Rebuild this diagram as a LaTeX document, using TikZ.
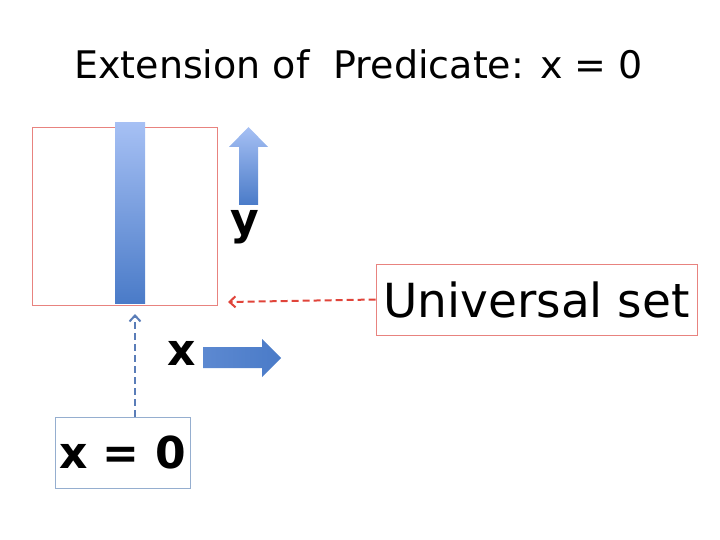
\documentclass[tikz,border=0pt]{standalone}
\usepackage{fontspec}
\setmainfont{DejaVu Sans}
\usetikzlibrary{positioning, arrows.meta, calc}

\definecolor{setred}{HTML}{E8837F}
\definecolor{dashred}{HTML}{E0443A}
\definecolor{barlight}{HTML}{A6C0F4}
\definecolor{bardark}{HTML}{4A7BC8}
\definecolor{dashblue}{HTML}{5A7DB8}
\definecolor{boxblue}{HTML}{95AECF}

\begin{document}
\begin{tikzpicture}[
  x=1pt, y=-1pt,
  setbox/.style={draw=setred, line width=0.8pt, inner sep=0pt},
  barfill/.style={top color=barlight, bottom color=bardark, draw=none},
  axislabel/.style={font=\fontsize{44}{50}\selectfont\bfseries, inner sep=0pt},
  pointer/.style={-{Straight Barb[length=6pt, width=11pt]}, line width=2pt, dash pattern=on 7pt off 4pt}
]
\useasboundingbox (0,0) rectangle (720,540);

% --- title ---
\node[anchor=base, font=\fontsize{38}{44}\selectfont] (title) at (358.5,79) {Extension of \ Predicate: x = 0};

% --- the universal set and the extension bar ---
\node[setbox, minimum width=185pt, minimum height=178pt] (uset) at (124.5,216) {};
\node[barfill, minimum width=30pt, minimum height=180pt, inner sep=0pt] (bar) at (130,213) {};

% --- axis arrows ---
\shade[barfill] (239,205) -- (239,147) -- (229,147) -- (248.5,127) -- (268,147)
  -- (258,147) -- (258,205) -- cycle;
\node[axislabel] (ylab) at (245,227) {y};
\shade[left color=bardark!80!barlight, right color=bardark, draw=none]
  (203,347) -- (262,347) -- (262,339) -- (281,358) -- (262,377) -- (262,368)
  -- (203,368) -- cycle;
\node[axislabel] (xlab) at (182,353) {x};

% --- labels pointing in ---
\node[setbox, minimum width=321pt, minimum height=71pt,
  font=\fontsize{47}{52}\selectfont] (ulabel) at (536.5,299.5) {Universal set};
\coordinate (ucorner) at (228,302);
\draw[pointer, draw=dashred] (ulabel.west) -- (ucorner);

\node[draw=boxblue, line width=0.8pt, minimum width=135pt, minimum height=71pt,
  inner sep=0pt, font=\fontsize{44}{50}\selectfont\bfseries] (zero) at (122.5,452.5) {x = 0};
\coordinate (zerotip) at (135,314);
\draw[pointer, draw=dashblue] (zero.north -| zerotip) -- (zerotip);

\end{tikzpicture}
\end{document}
